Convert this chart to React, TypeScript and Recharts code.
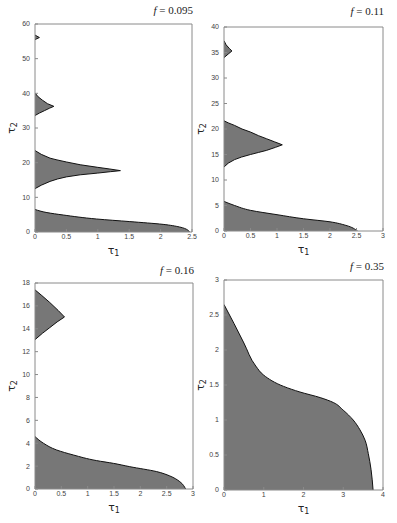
import React from "react";
import { ComposedChart, Area, XAxis, YAxis } from "recharts";

// every point is [tau2, tau1]; each stable region is bounded by tau1 = 0
type Pt = [number, number];

// f = 0.095
const f095Base: Pt[] = [[0, 2.46], [0.6, 2.43], [1.45, 2.3], [2.2, 2.04], [3.0, 1.51], [3.75, 0.98], [4.9, 0.45], [5.6, 0.19], [6.5, 0]];
const f095Lobe1: Pt[] = [
  [12.5, 0], [13.5, 0.1], [14.6, 0.24], [15.3, 0.36], [15.9, 0.5], [16.5, 0.72], [17.0, 1.0], [17.4, 1.2], [17.7, 1.36],
  [18.2, 1.18], [18.65, 1.0], [19.4, 0.72], [20.2, 0.5], [20.8, 0.35], [21.3, 0.24], [22.4, 0.1], [23.5, 0],
];
const f095Lobe2: Pt[] = [[33.6, 0], [34.3, 0.07], [35.0, 0.15], [35.7, 0.23], [36.25, 0.3], [37.0, 0.2], [38.0, 0.12], [39.0, 0.05], [40.1, 0]];
const f095Lobe3: Pt[] = [[55.5, 0], [56.1, 0.07], [56.8, 0]];

// f = 0.11
const f011Base: Pt[] = [[0, 2.52], [1.1, 2.3], [1.8, 2.0], [2.4, 1.5], [3.2, 1.0], [4.05, 0.5], [5.0, 0.2], [5.8, 0]];
const f011Lobe1: Pt[] = [
  [12.55, 0], [13.3, 0.08], [14.0, 0.2], [14.5, 0.33], [15.0, 0.5], [15.4, 0.65], [15.8, 0.8], [16.4, 0.97], [16.9, 1.1],
  [17.5, 0.95], [18.1, 0.8], [18.7, 0.65], [19.4, 0.5], [20.0, 0.34], [20.7, 0.2], [21.2, 0.08], [21.6, 0],
];
const f011Lobe2: Pt[] = [[34.0, 0], [34.7, 0.08], [35.3, 0.15], [35.8, 0.1], [36.5, 0.04], [37.3, 0]];

// f = 0.16
const f016Base: Pt[] = [
  [0, 2.86], [0.64, 2.75], [1.14, 2.56], [1.52, 2.31], [1.95, 1.8], [2.24, 1.49],
  [2.48, 1.17], [2.97, 0.73], [3.41, 0.41], [4.0, 0.16], [4.58, 0],
];
const f016Lobe: Pt[] = [[13.05, 0], [13.6, 0.14], [14.1, 0.28], [14.6, 0.42], [15.03, 0.56], [15.6, 0.44], [16.3, 0.28], [16.9, 0.13], [17.4, 0]];

// f = 0.35
const f035Base: Pt[] = [
  [0, 3.75], [0.29, 3.7], [0.52, 3.63], [0.71, 3.55], [0.86, 3.42], [1.0, 3.25], [1.14, 3.0],
  [1.25, 2.75], [1.32, 2.42], [1.4, 1.91], [1.48, 1.5], [1.64, 1.0], [1.77, 0.8], [2.1, 0.5],
  [2.38, 0.25], [2.65, 0],
];

const panels = [
  {
    title: "0.095", plot: { l: 35, t: 24, r: 192, b: 232 }, titleTop: 4,
    xMax: 2.5, xTicks: [0, 0.5, 1, 1.5, 2, 2.5], yMax: 60, yTicks: [0, 10, 20, 30, 40, 50, 60],
    bases: [f095Base], lobes: [f095Lobe1, f095Lobe2, f095Lobe3],
  },
  {
    title: "0.11", plot: { l: 224, t: 27, r: 383, b: 231 }, titleTop: 5,
    xMax: 3, xTicks: [0, 0.5, 1, 1.5, 2, 2.5, 3], yMax: 40, yTicks: [0, 5, 10, 15, 20, 25, 30, 35, 40],
    bases: [f011Base], lobes: [f011Lobe1, f011Lobe2],
  },
  {
    title: "0.16", plot: { l: 35, t: 283, r: 193, b: 489 }, titleTop: 264,
    xMax: 3, xTicks: [0, 0.5, 1, 1.5, 2, 2.5, 3], yMax: 18, yTicks: [0, 2, 4, 6, 8, 10, 12, 14, 16, 18],
    bases: [f016Base], lobes: [f016Lobe],
  },
  {
    title: "0.35", plot: { l: 224, t: 280, r: 383, b: 490 }, titleTop: 260,
    xMax: 4, xTicks: [0, 1, 2, 3, 4], yMax: 3, yTicks: [0, 0.5, 1, 1.5, 2, 2.5, 3],
    bases: [f035Base], lobes: [] as Pt[][],
  },
];

const FRAME = "#8a8a8a";
const tickStyle = { fontSize: 7, fill: "#444", fontFamily: "Liberation Sans, Arial, sans-serif" };

function TauLabel(props: any) {
  const { viewBox, n, vertical } = props;
  if (!viewBox) return null;
  const x = vertical ? viewBox.x + viewBox.width - 24 : viewBox.x + viewBox.width / 2;
  const y = vertical ? viewBox.y + viewBox.height / 2 : viewBox.y + 18;
  return (
    <text
      x={x}
      y={y}
      textAnchor="middle"
      dominantBaseline="central"
      fontSize={11}
      fontFamily="DejaVu Sans, sans-serif"
      fill="#222"
      transform={vertical ? `rotate(-90, ${x}, ${y})` : undefined}
    >
      τ<tspan fontSize={8} dy={3}>{n}</tspan>
    </text>
  );
}

function region(pts: Pt[], key: string, type: "monotone" | "linear") {
  return (
    <Area
      key={key}
      data={pts.map(([t2, t1]) => ({ t2, t1 }))}
      dataKey="t1"
      type={type}
      fill="#777777"
      fillOpacity={1}
      stroke="#111"
      strokeWidth={1}
      dot={false}
      activeDot={false}
      isAnimationActive={false}
    />
  );
}

function Panel({ cfg }: { cfg: (typeof panels)[number] }) {
  const { l, t, r, b } = cfg.plot;
  const w = r - l + 35 + 8;
  const h = b - t + 24 + 30;
  return (
    <>
      <div
        style={{
          position: "absolute",
          right: 397 - (r + 1),
          top: cfg.titleTop,
          fontFamily: "Liberation Serif, Times New Roman, serif",
          fontSize: 11,
          color: "#222",
          whiteSpace: "nowrap",
        }}
      >
        <i>f</i> = {cfg.title}
      </div>
      <div style={{ position: "absolute", left: l - 35, top: t - 24 }}>
        <ComposedChart
          width={w}
          height={h}
          layout="vertical"
          margin={{ top: 22, right: 6, bottom: 0, left: 0 }}
        >
          <XAxis
            type="number"
            domain={[0, cfg.xMax]}
            ticks={cfg.xTicks}
            allowDataOverflow
            height={30}
            stroke={FRAME}
            tickSize={-3}
            tickMargin={5}
            tick={tickStyle}
            label={<TauLabel n="1" />}
          />
          <XAxis
            xAxisId="top"
            orientation="top"
            type="number"
            domain={[0, cfg.xMax]}
            ticks={cfg.xTicks}
            allowDataOverflow
            height={2}
            stroke={FRAME}
            tickSize={-3}
            tick={false}
          />
          <YAxis
            type="number"
            dataKey="t2"
            domain={[0, cfg.yMax]}
            ticks={cfg.yTicks}
            reversed
            allowDataOverflow
            width={35}
            stroke={FRAME}
            tickSize={-3}
            tickMargin={8}
            tick={tickStyle}
            label={<TauLabel n="2" vertical />}
          />
          <YAxis
            yAxisId="right"
            orientation="right"
            type="number"
            dataKey="t2"
            domain={[0, cfg.yMax]}
            ticks={cfg.yTicks}
            reversed
            allowDataOverflow
            width={2}
            stroke={FRAME}
            tickSize={-3}
            tick={false}
          />
          {cfg.bases.map((pts, i) => region(pts, `b${i}`, "monotone"))}
          {cfg.lobes.map((pts, i) => region(pts, `l${i}`, "linear"))}
        </ComposedChart>
      </div>
    </>
  );
}

export default function App() {
  return (
    <div style={{ position: "absolute", left: 0, top: 0, width: 397, height: 523, background: "#fff" }}>
      {panels.map((p) => (
        <Panel key={p.title} cfg={p} />
      ))}
    </div>
  );
}
